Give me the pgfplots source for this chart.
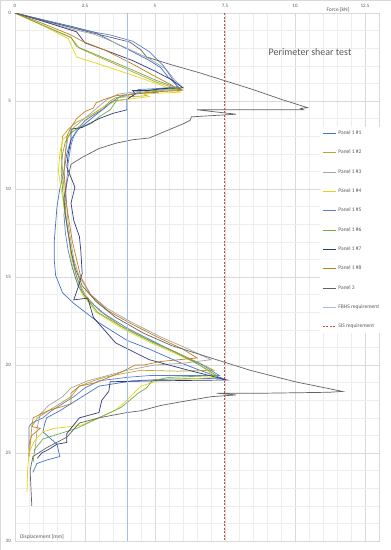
\documentclass[border=0pt]{standalone}
\usepackage{fontspec}
\setmainfont{Carlito}
\usepackage{pgfplots}
\pgfplotsset{compat=1.18}
\definecolor{cA}{HTML}{4472C4}
\definecolor{cB}{HTML}{BFA32A}
\definecolor{cC}{HTML}{A5A5A5}
\definecolor{cD}{HTML}{E3D514}
\definecolor{cE}{HTML}{5B7FD0}
\definecolor{cF}{HTML}{70AD47}
\definecolor{cG}{HTML}{2E3A7A}
\definecolor{cH}{HTML}{C47F1F}
\definecolor{cI}{HTML}{636363}
\definecolor{fbhs}{HTML}{A3BFEA}
\definecolor{sis}{HTML}{C0504D}
\definecolor{txt}{HTML}{595959}
\definecolor{gmaj}{HTML}{D9D9D9}
\definecolor{gmin}{HTML}{EDEDED}
\begin{document}
\begin{tikzpicture}
\begin{axis}[
  anchor=south west, scale only axis,
  width=364pt, height=528pt,
  xmin=0, xmax=13, ymin=0, ymax=30, y dir=reverse,
  xtick={0,2.5,5,7.5,10,12.5}, ytick={0,5,10,15,20,25,30},
  minor x tick num=4, minor y tick num=4,
  grid=both, major grid style={draw=gmaj, line width=0.5pt},
  minor grid style={draw=gmin, line width=0.4pt},
  axis line style={draw=gmaj, line width=0.5pt},
  tick style={draw=none},
  xticklabel pos=upper,
  /pgf/number format/assume math mode=true,
  ticklabel style={font=\fontsize{5}{6}\selectfont, text=txt},
  xticklabel style={inner sep=1pt, yshift=4.5pt},
  yticklabel style={inner sep=1pt, xshift=-3pt},
  legend style={at={(axis cs:10.9,6.45)}, anchor=north west, draw=none, fill=white,
    font=\fontsize{5.5}{6.6}\selectfont, text=txt, row sep=10pt, inner sep=2pt,
    cells={anchor=west}},
  legend image code/.code={\draw[#1] (0pt,0pt) -- (13pt,0pt);},
  every axis plot/.append style={line width=0.7pt},
]
\coordinate (SW) at (axis description cs:0,0);
% Panel 1 #1
\addplot[cA] coordinates {(0,0)(1.0,0.38)(2.0,0.75)(2.9,1.12)(3.15,1.35)(3.7,1.8)(4.2,2.2)(4.8,2.7)(5.2,3.1)(5.45,3.6)(5.9,4.3)(4.9,4.35)(5.1,4.5)(4.3,4.6)(4.0,4.9)(3.5,5.0)(3.2,5.4)(2.8,5.9)(2.5,6.3)(2.2,6.7)(2.0,7.2)(1.85,8.0)(1.75,9.0)(1.6,10.0)(1.5,11.0)(1.45,12.0)(1.4,13.0)(1.4,14.0)(1.45,14.9)(1.7,15.9)(2.1,16.5)(3.0,17.6)(4.0,18.6)(4.8,19.1)(5.8,19.8)(6.6,20.3)(7.4,20.75)(5.5,20.8)(4.2,20.9)(3.8,21.0)(3.0,21.2)(2.6,21.6)(2.2,22.0)(1.9,22.3)(1.6,22.6)(1.13,23.0)(1.05,23.4)(1.0,23.8)(1.5,24.5)(1.6,25.2)(1.13,25.4)(0.78,25.6)(0.64,26.1)};
\addlegendentry{Panel 1 \#1}
% Panel 1 #2
\addplot[cB] coordinates {(0,0)(1.0,0.7)(2.0,1.4)(2.3,2.0)(3.0,2.5)(4.0,3.2)(5.0,3.9)(5.95,4.4)(5.0,4.45)(4.6,4.55)(4.7,4.7)(3.6,4.8)(3.4,5.0)(3.2,5.3)(2.9,5.6)(2.6,5.9)(2.2,6.2)(1.9,6.6)(1.7,7.0)(1.65,8.0)(1.7,9.0)(1.75,10.0)(1.8,11.0)(1.85,12.0)(1.95,13.0)(2.05,14.0)(2.2,15.0)(2.5,16.0)(3.0,16.9)(3.8,17.8)(4.8,18.6)(5.8,19.3)(6.6,19.9)(7.1,20.3)(5.8,20.35)(4.5,20.3)(3.8,20.5)(3.2,20.7)(2.8,20.9)(2.3,21.2)(2.0,21.8)(1.6,22.2)(1.2,22.6)(0.8,23.0)(0.6,23.5)(0.55,24.5)(0.5,25.2)};
\addlegendentry{Panel 1 \#2}
% Panel 1 #3
\addplot[cC] coordinates {(0,0)(1.0,0.45)(2.0,0.9)(2.8,1.2)(3.3,1.5)(4.0,2.0)(4.8,2.6)(5.4,3.2)(5.7,3.8)(6.0,4.25)(5.2,4.3)(4.6,4.4)(4.2,4.5)(3.7,4.6)(3.3,4.9)(3.0,5.3)(2.7,5.7)(2.4,6.1)(2.1,6.5)(1.9,7.0)(1.8,8.0)(1.75,9.0)(1.8,10.0)(1.85,11.0)(1.9,12.0)(2.0,13.0)(2.1,14.0)(2.3,15.0)(2.7,16.0)(3.3,16.8)(4.2,17.6)(5.2,18.4)(6.2,19.1)(7.0,19.7)(6.0,19.9)(5.0,20.0)(4.0,20.3)(3.3,20.6)(2.6,20.9)(2.0,21.3)(1.7,21.8)(1.2,22.3)(0.9,22.8)(0.8,23.5)(0.75,24.3)(0.7,25.0)};
\addlegendentry{Panel 1 \#3}
% Panel 1 #4
\addplot[cD] coordinates {(0,0)(1.0,0.72)(1.9,1.45)(2.2,2.5)(3.0,2.9)(4.5,3.7)(5.2,4.1)(5.9,4.5)(5.2,4.55)(4.6,4.6)(4.8,4.75)(4.0,4.9)(3.6,5.0)(3.1,5.4)(2.7,5.9)(2.4,6.3)(2.1,6.7)(1.7,7.2)(1.6,8.0)(1.55,9.0)(1.65,10.0)(1.75,11.0)(1.85,12.0)(1.95,13.0)(2.0,14.0)(2.15,15.0)(2.4,16.0)(2.9,17.0)(3.8,17.9)(4.8,18.7)(5.8,19.4)(6.6,20.0)(7.2,20.7)(5.1,20.9)(4.5,21.2)(4.3,21.5)(4.0,22.0)(3.6,22.55)(3.0,23.0)(2.4,23.4)(1.96,23.5)(1.4,23.6)(1.0,23.8)(0.7,24.3)(0.5,25.0)(0.45,26.0)(0.43,27.2)};
\addlegendentry{Panel 1 \#4}
% Panel 1 #5
\addplot[cE] coordinates {(0,0)(1.0,0.4)(2.0,0.8)(2.7,1.05)(3.4,1.25)(4.2,1.6)(4.8,2.2)(5.3,3.0)(5.6,3.7)(5.8,4.2)(5.0,4.3)(4.4,4.35)(4.5,4.5)(3.8,4.7)(3.4,5.1)(3.1,5.5)(2.8,5.8)(2.5,6.1)(2.3,6.5)(2.1,7.0)(2.0,7.5)(1.9,8.5)(1.85,9.5)(1.8,10.5)(1.75,11.5)(1.8,12.5)(1.9,13.5)(2.05,14.5)(2.25,15.5)(2.6,16.3)(3.2,17.1)(4.0,17.9)(5.0,18.7)(6.0,19.5)(6.7,20.0)(7.3,20.6)(5.8,20.6)(4.8,20.6)(4.0,20.7)(3.0,20.9)(2.5,21.3)(2.1,21.8)(1.7,22.2)(1.3,22.6)(1.0,23.0)(0.6,23.3)(0.5,23.5)(0.5,24.8)};
\addlegendentry{Panel 1 \#5}
% Panel 1 #6
\addplot[cF] coordinates {(0,0)(1.0,0.7)(2.0,1.38)(2.2,1.9)(2.8,2.3)(4.0,3.1)(5.0,3.8)(5.95,4.35)(5.0,4.4)(4.5,4.5)(3.7,4.8)(3.4,5.5)(3.0,5.9)(2.7,6.3)(2.3,6.5)(2.0,6.8)(1.8,7.3)(1.7,8.0)(1.65,9.0)(1.7,10.0)(1.75,11.0)(1.85,12.0)(1.95,13.0)(2.05,14.0)(2.2,15.0)(2.45,16.0)(2.95,17.0)(3.9,17.9)(4.9,18.7)(5.9,19.4)(6.7,20.1)(7.2,20.6)(5.5,20.7)(4.9,20.9)(4.7,21.3)(4.4,21.6)(4.1,22.0)(3.8,22.4)(3.4,22.7)(3.0,23.0)(2.6,23.3)(2.2,23.6)(1.6,23.9)(1.0,24.2)(0.7,24.8)(0.65,25.5)};
\addlegendentry{Panel 1 \#6}
% Panel 1 #7
\addplot[cG] coordinates {(0,0)(1.0,0.47)(2.2,1.07)(2.5,1.7)(3.2,2.1)(4.2,2.7)(5.0,3.3)(5.6,3.8)(6.0,4.25)(5.2,4.3)(4.8,4.4)(4.2,4.4)(4.3,4.6)(4.0,4.9)(4.0,5.5)(3.5,5.7)(3.0,6.0)(2.4,6.5)(2.0,6.6)(2.0,7.2)(1.9,8.0)(1.85,8.75)(2.14,9.9)(2.0,10.8)(2.1,11.8)(2.3,12.7)(2.35,13.5)(2.4,14.8)(2.25,15.6)(2.1,16.3)(2.6,16.2)(2.8,17.3)(3.6,18.75)(4.8,19.7)(6.2,20.3)(7.57,20.85)(5.0,20.9)(3.4,20.95)(3.35,21.5)(3.1,22.0)(3.0,22.7)(2.3,23.0)(2.1,23.4)(1.85,23.9)(1.85,24.4)(1.5,24.5)(1.2,24.8)(0.95,25.0)(0.8,25.3)};
\addlegendentry{Panel 1 \#7}
% Panel 1 #8
\addplot[cH] coordinates {(0,0)(1.0,0.6)(2.0,1.25)(2.4,1.6)(3.2,2.1)(4.2,2.9)(5.0,3.6)(5.6,4.1)(5.9,4.4)(4.8,4.5)(4.3,4.6)(3.6,4.7)(3.2,4.9)(2.9,5.1)(2.8,5.4)(2.5,5.6)(2.2,6.0)(2.0,6.5)(1.85,7.0)(1.8,8.0)(1.75,9.0)(1.8,10.0)(1.85,11.0)(1.95,12.0)(2.05,13.0)(2.2,14.0)(2.35,15.0)(2.7,16.0)(3.3,16.9)(4.2,17.7)(5.2,18.5)(6.0,19.1)(6.5,19.6)(5.2,19.8)(4.6,20.0)(4.3,20.0)(3.8,20.4)(3.2,20.8)(2.9,21.0)(2.3,21.2)(2.0,21.6)(2.0,22.2)(1.6,22.4)(1.25,22.55)(0.9,22.8)(0.65,23.0)(0.6,23.5)(0.9,23.6)(0.6,24.0)(0.5,24.5)(0.5,25.2)};
\addlegendentry{Panel 1 \#8}
% Panel 3
\addplot[cI] coordinates {(0,0)(1.0,0.42)(2.0,0.82)(3.0,1.22)(4.1,1.65)(4.5,2.1)(4.7,2.5)(5.5,2.9)(6.6,3.4)(7.5,3.85)(8.5,4.35)(9.5,4.9)(10.45,5.38)(10.2,5.42)(10.3,5.5)(6.5,5.5)(7.9,5.75)(6.3,5.9)(6.25,6.1)(6.0,6.3)(5.4,6.7)(4.8,7.1)(4.2,7.2)(3.6,7.4)(3.0,7.7)(2.4,8.2)(2.0,8.6)(1.9,9.3)(1.75,10.5)(1.8,11.5)(1.9,12.5)(2.0,13.5)(2.15,14.5)(2.4,15.5)(2.9,16.4)(3.6,17.3)(4.6,18.2)(5.6,18.9)(7.0,19.6)(8.4,20.3)(10.0,20.95)(11.7,21.5)(11.2,21.55)(9.0,21.6)(7.2,21.6)(7.9,21.7)(7.0,21.8)(5.9,22.1)(5.2,22.3)(4.5,22.6)(4.0,22.7)(3.0,23.0)(2.3,23.3)(1.85,24.1)(1.13,24.7)(0.64,25.2)(0.54,26.0)(0.6,28.0)};
\addlegendentry{Panel 3}
\addplot[fbhs, line width=0.9pt] coordinates {(4,0)(4,30)};
\addlegendentry{FBHS requirement}
\addplot[sis, line width=1pt, dash pattern=on 2pt off 1.5pt] coordinates {(7.5,0)(7.5,30)};
\addlegendentry{SIS requirement}
\end{axis}
\begin{scope}[shift={(SW)}, xshift=-15pt, yshift=-9pt, x=1pt, y=1pt]
\draw[draw=gmaj, line width=0.5pt] (0.25,0.25) rectangle (390.75,549.75);
\node[font=\fontsize{10}{12}\selectfont, text=txt] at (310,498) {Perimeter shear test};
\node[font=\fontsize{5.5}{6.6}\selectfont, text=txt] at (338,540) {Force [kN]};
\node[font=\fontsize{5.5}{6.6}\selectfont, text=txt] at (42,13) {Displacement [mm]};
\pgfresetboundingbox
\useasboundingbox (0,0) rectangle (391,550);
\end{scope}
\end{tikzpicture}
\end{document}
